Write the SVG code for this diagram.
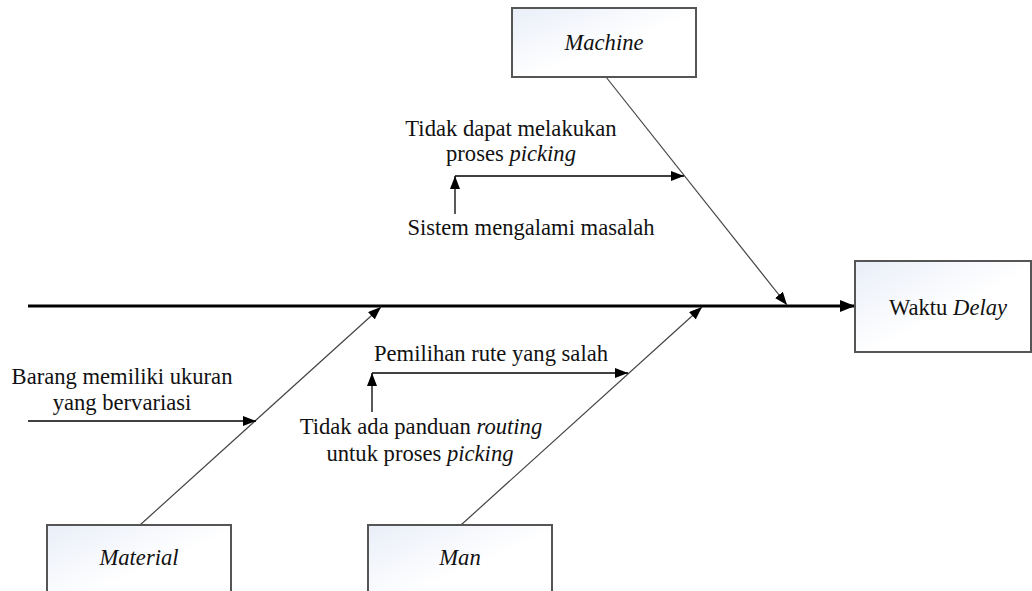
<svg xmlns="http://www.w3.org/2000/svg" width="1032" height="591" viewBox="0 0 1032 591">
<defs>
<style>
.box{fill:url(#g);stroke:#555;stroke-width:2}
.t{font-family:"Liberation Serif","Times New Roman",serif;font-size:22.6px;fill:#111}
.i{font-style:italic}
.bone{stroke:#444;stroke-width:1.2;fill:none}
.sub{stroke:#000;stroke-width:1.3;fill:none}
.spine{stroke:#000;stroke-width:3;fill:none}
</style>
<linearGradient id="g" x1="0" y1="0" x2="1" y2="1">
<stop offset="0" stop-color="#e9eef8"/>
<stop offset="0.55" stop-color="#ffffff"/>
</linearGradient>
<marker id="a" markerUnits="userSpaceOnUse" markerWidth="14" markerHeight="10" refX="13" refY="5" orient="auto">
<path d="M0,0 L13,5 L0,10 Z" fill="#000"/>
</marker>
<marker id="b" markerUnits="userSpaceOnUse" markerWidth="16" markerHeight="12" refX="15" refY="6" orient="auto">
<path d="M0,0 L15,6 L0,12 Z" fill="#000"/>
</marker>
</defs>
<g id="connectors">
<line class="spine" x1="28" y1="306" x2="855" y2="306" marker-end="url(#b)"/>
<line class="bone" x1="606" y1="77" x2="787" y2="305" marker-end="url(#a)"/>
<line class="bone" x1="140" y1="525" x2="381" y2="307" marker-end="url(#a)"/>
<line class="bone" x1="461" y1="525" x2="702" y2="307" marker-end="url(#a)"/>
<line class="sub" x1="455" y1="176" x2="684" y2="176" marker-end="url(#a)"/>
<line class="sub" x1="455" y1="214" x2="455" y2="176" marker-end="url(#a)"/>
<line class="sub" x1="372" y1="373" x2="628" y2="373" marker-end="url(#a)"/>
<line class="sub" x1="372" y1="412" x2="372" y2="373" marker-end="url(#a)"/>
<line class="sub" x1="28" y1="421" x2="256" y2="421" marker-end="url(#a)"/>
</g>
<g id="machine">
<rect class="box" x="512" y="8" width="184" height="69"/>
<text class="t i" x="604" y="50" text-anchor="middle">Machine</text>
</g>
<g id="waktu-delay">
<rect class="box" x="855" y="261" width="176" height="91"/>
<text class="t" x="948" y="315" text-anchor="middle">Waktu <tspan class="i">Delay</tspan></text>
</g>
<g id="material">
<rect class="box" x="47" y="525" width="184" height="80"/>
<text class="t i" x="139" y="565" text-anchor="middle">Material</text>
</g>
<g id="man">
<rect class="box" x="368" y="525" width="184" height="80"/>
<text class="t i" x="460" y="565" text-anchor="middle">Man</text>
</g>
<g id="cause-machine">
<text class="t" x="511" y="136" text-anchor="middle">Tidak dapat melakukan</text>
<text class="t" x="511" y="161" text-anchor="middle">proses <tspan class="i">picking</tspan></text>
<text class="t" x="531" y="235" text-anchor="middle">Sistem mengalami masalah</text>
</g>
<g id="cause-material">
<text class="t" x="122" y="384" text-anchor="middle">Barang memiliki ukuran</text>
<text class="t" x="122" y="410" text-anchor="middle">yang bervariasi</text>
</g>
<g id="cause-man">
<text class="t" x="491" y="361" text-anchor="middle">Pemilihan rute yang salah</text>
<text class="t" x="421" y="434" text-anchor="middle">Tidak ada panduan <tspan class="i">routing</tspan></text>
<text class="t" x="420" y="461" text-anchor="middle">untuk proses <tspan class="i">picking</tspan></text>
</g>
</svg>
